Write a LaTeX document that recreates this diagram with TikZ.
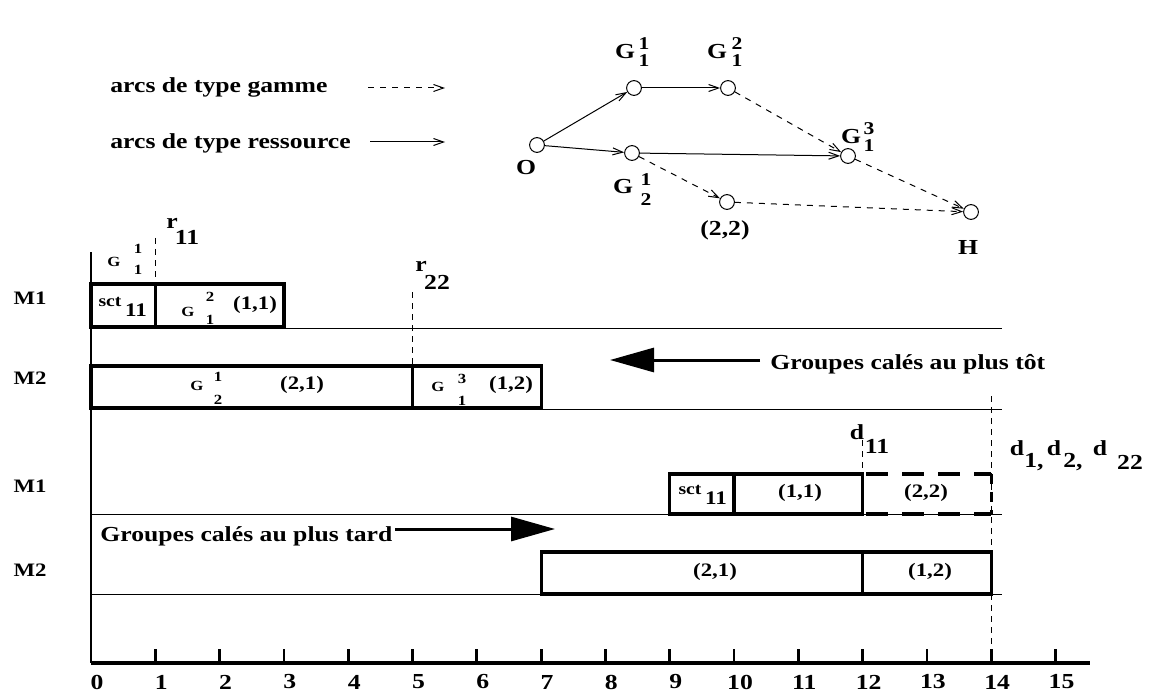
\documentclass[tikz,border=0pt]{standalone}
\usepackage{fontspec}
\setmainfont{Liberation Serif}[FakeStretch=1.2]
\usetikzlibrary{arrows.meta}
\begin{document}
\begin{tikzpicture}[x=0.5pt,y=-0.5pt,
  lbl/.style={font=\fontsize{10.7}{12}\selectfont\bfseries, inner sep=0pt},
  dig/.style={font=\fontsize{9}{10}\selectfont\bfseries, inner sep=0pt},
  mid/.style={font=\fontsize{9.5}{11}\selectfont\bfseries, inner sep=0pt},
  sm/.style={font=\fontsize{7}{8}\selectfont\bfseries, inner sep=0pt},
  sctf/.style={font=\fontsize{8.2}{9}\selectfont\bfseries, inner sep=0pt},
  sctn/.style={font=\fontsize{9.6}{10}\selectfont\bfseries, inner sep=0pt},
  gnode/.style={circle, draw, line width=0.5pt, minimum size=7.4pt, inner sep=0pt},
  arr/.style={line width=0.5pt, -{Straight Barb[length=5pt,width=3.5pt]}},
  garr/.style={arr, dash pattern=on 3pt off 3pt},
  task/.style={draw, line width=1.6pt},
  row/.style={line width=0.5pt},
  guide/.style={line width=0.5pt, dash pattern=on 3pt off 2.5pt},
  fat/.style={line width=1.5pt, -{Triangle[length=22pt,width=12pt]}}
]
\useasboundingbox (0,0) rectangle (1150,695);

% ---------- legend ----------
\node[lbl, anchor=west] (lg) at (110,87) {arcs de type gamme};
\node[lbl, anchor=west] (lr) at (110,143) {arcs de type ressource};
\coordinate (lg1) at (368,88); \coordinate (lg2) at (445,88);
\coordinate (lr1) at (370,142); \coordinate (lr2) at (445,142);
\draw[garr] (lg1) -- (lg2);
\draw[arr] (lr1) -- (lr2);

% ---------- graph ----------
\node[gnode] (O) at (537,145) {};
\node[gnode] (G11) at (634,88) {};
\node[gnode] (G21) at (728,88) {};
\node[gnode] (G12) at (632,153) {};
\node[gnode] (G31) at (848,156) {};
\node[gnode] (G22) at (727,202) {};
\node[gnode] (H) at (971,212) {};

\draw[arr] (O) -- (G11);
\draw[arr] (G11) -- (G21);
\draw[arr] (O) -- (G12);
\draw[arr] (G12) -- (G31);
\draw[garr] (G21) -- (G31);
\draw[garr] (G12) -- (G22);
\draw[garr] (G22) -- (H);
\draw[garr] (G31) -- (H);

\node[lbl] (Ol) at (526,168) {O};
\node[lbl] (G11g) at (625,52) {G};
\node[dig] (G11a) at (644,44) {1};
\node[dig] (G11b) at (644,61) {1};
\node[lbl] (G21g) at (717,52) {G};
\node[dig] (G21a) at (737,44) {2};
\node[dig] (G21b) at (737,61) {1};
\node[lbl] (G31g) at (851,137) {G};
\node[dig] (G31a) at (869,129) {3};
\node[dig] (G31b) at (869,146) {1};
\node[lbl] (G12g) at (623,187) {G};
\node[dig] (G12a) at (646,180) {1};
\node[dig] (G12b) at (646,200) {2};
\node[lbl] (G22l) at (725,230) {(2,2)};
\node[lbl] (Hl) at (968,247) {H};

% ---------- gantt: axes ----------
\draw[line width=0.6pt] (91,252) -- (91,663);
\draw[line width=1.8pt] (91,663) -- (1090,663);
\foreach \i in {1,...,15}{
  \pgfmathsetmacro\xx{91+64.3*\i}
  \draw[line width=1.4pt] (\xx,663) -- (\xx,649);
}
\foreach \i in {0,...,15}{
  \pgfmathsetmacro\xx{97+64.3*\i}
  \node[lbl] (t\i) at (\xx,682) {\i};
}

% row lines
\draw[row] (91,328) -- (1002,328);
\draw[row] (91,409) -- (1002,409);
\draw[row] (91,514) -- (1002,514);
\draw[row] (91,594) -- (1002,594);

% machine labels
\node[mid] (m1a) at (30,298) {M1};
\node[mid] (m2a) at (30,378) {M2};
\node[mid] (m1b) at (30,486) {M1};
\node[mid] (m2b) at (30,570) {M2};

% guides
\draw[guide] (155.3,238) -- (155.3,284);
\draw[guide] (412.5,292) -- (412.5,366);
\draw[guide] (862.6,440) -- (862.6,474);
\draw[guide] (991.2,396) -- (991.2,663);

% ---------- upper boxes (au plus tot) ----------
\draw[task] (91,284) rectangle (155.3,327);
\draw[task] (155.3,284) rectangle (283.9,327);
\draw[task] (91,366) rectangle (412.5,408);
\draw[task] (412.5,366) rectangle (541.1,408);

\node[sm] (g0g) at (114,262) {G};
\node[sm] (g0a) at (138,249) {1};
\node[sm] (g0b) at (138,270) {1};
\node[lbl] (r11r) at (172,223) {r};
\node[lbl] (r11s) at (187,237) {11};
\node[lbl] (r22r) at (421,266) {r};
\node[lbl] (r22s) at (437,282) {22};

\node[sctf] (s1a) at (110,302) {sct};
\node[sctn] (s1b) at (136,310) {11};
\node[sm] (b1g) at (188,312) {G};
\node[sm] (b1a) at (210,297) {2};
\node[sm] (b1b) at (210,320) {1};
\node[mid] (b1t) at (255,305) {(1,1)};

\node[sm] (b2g) at (197,386) {G};
\node[sm] (b2a) at (218,377) {1};
\node[sm] (b2b) at (218,400) {2};
\node[mid] (b2t) at (302,385) {(2,1)};
\node[sm] (b3g) at (438,387) {G};
\node[sm] (b3a) at (462,379) {3};
\node[sm] (b3b) at (462,401) {1};
\node[mid] (b3t) at (511,385) {(1,2)};

\node[lbl, anchor=west] (tot) at (770,364) {Groupes calés au plus tôt};
\coordinate (tot1) at (760,360); \coordinate (tot2) at (610,360);
\draw[fat] (tot1) -- (tot2);

% ---------- lower boxes (au plus tard) ----------
\draw[task] (669.7,474) rectangle (734,514);
\draw[task] (734,474) rectangle (862.6,514);
\draw[line width=1.6pt, dash pattern=on 11pt off 7pt] (866,474) -- (991.2,474);
\draw[line width=1.6pt, dash pattern=on 11pt off 7pt] (866,514) -- (991.2,514);
\draw[line width=1.6pt, dash pattern=on 5pt off 4pt] (991.2,474) -- (991.2,514);
\draw[task] (541.1,552) rectangle (862.6,594);
\draw[task] (862.6,552) rectangle (991.2,594);

\node[sctf] (s2a) at (690,490) {sct};
\node[sctn] (s2b) at (716,498) {11};
\node[mid] (c1t) at (800,493) {(1,1)};
\node[mid] (c2t) at (926,493) {(2,2)};
\node[mid] (c3t) at (715,572) {(2,1)};
\node[mid] (c4t) at (930,572) {(1,2)};

\node[lbl] (d11d) at (857,432) {d};
\node[lbl] (d11s) at (877,446) {11};
\node[lbl] (d1d) at (1017,448) {d};
\node[lbl] (d1s) at (1034,462) {1,};
\node[lbl] (d2d) at (1054,448) {d};
\node[lbl] (d2s) at (1073,462) {2,};
\node[lbl] (d3d) at (1100,448) {d};
\node[lbl] (d3s) at (1130,462) {22};

\node[lbl, anchor=west] (tard) at (100,536) {Groupes calés au plus tard};
\coordinate (tard1) at (395,529); \coordinate (tard2) at (555,529);
\draw[fat] (tard1) -- (tard2);
\end{tikzpicture}
\end{document}
